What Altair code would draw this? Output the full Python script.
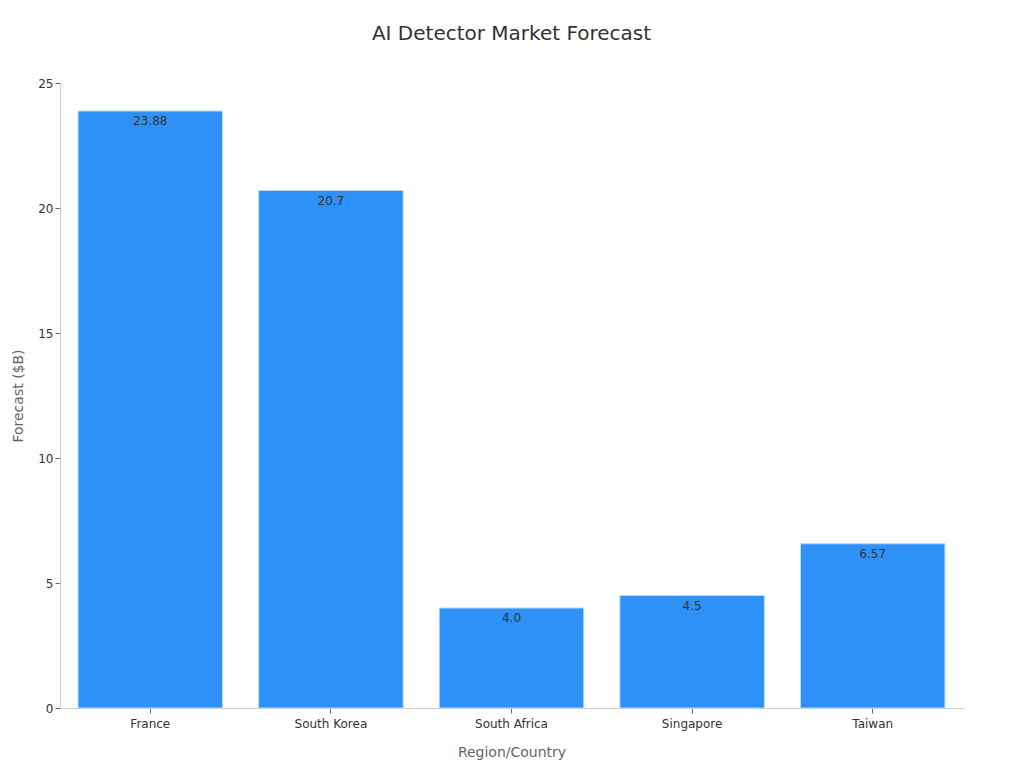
import altair as alt
import pandas as pd

regions = ["France", "South Korea", "South Africa", "Singapore", "Taiwan"]
values = [23.88, 20.7, 4.0, 4.5, 6.57]
labels = ["23.88", "20.7", "4.0", "4.5", "6.57"]

df = pd.DataFrame({"region": regions, "value": values, "label": labels})

FONT = "DejaVu Sans"

xscale = alt.Scale(paddingInner=0.2, paddingOuter=0.1)
yscale = alt.Scale(domain=[0, 25], nice=False)

x = alt.X("region:N", sort=regions, title="Region/Country", scale=xscale,
          axis=alt.Axis(labelAngle=0, labelFontSize=12, labelColor="#333333",
                        titleFontSize=14, titleColor="#666666", titlePadding=16,
                        titleFontWeight="normal",
                        domainColor="#cccccc", tickColor="#666666", tickSize=5,
                        labelPadding=5))
y = alt.Y("value:Q", title="Forecast ($B)", scale=yscale,
          axis=alt.Axis(values=[0, 5, 10, 15, 20, 25], grid=False, labelFontSize=12,
                        labelColor="#333333", titleFontSize=14, titleColor="#666666",
                        titleFontWeight="normal", titlePadding=12,
                        domainColor="#cccccc", tickColor="#666666", tickSize=5))

bars = alt.Chart(df).mark_bar(color="#2e91f7", stroke="#b8d9fb", strokeWidth=1).encode(
    x=x, y=y)

text = alt.Chart(df).mark_text(baseline="top", dy=5, fontSize=12, color="#333333",
                               font=FONT).encode(
    x=alt.X("region:N", sort=regions, scale=xscale),
    y=alt.Y("value:Q", scale=yscale), text="label:N")

chart = (bars + text).properties(
    width=903, height=625,
    title=alt.TitleParams("AI Detector Market Forecast", fontSize=20, fontWeight="normal",
                          color="#333333", font=FONT, anchor="middle", offset=33),
    autosize=alt.AutoSizeParams(type="none"),
    padding={"left": 52, "top": 75, "right": 45, "bottom": 52},
).configure(font=FONT).configure_view(strokeWidth=0).configure_axis(
    labelFont=FONT, titleFont=FONT)

chart.save("out.html", embed_options={"renderer": "svg", "actions": False})
